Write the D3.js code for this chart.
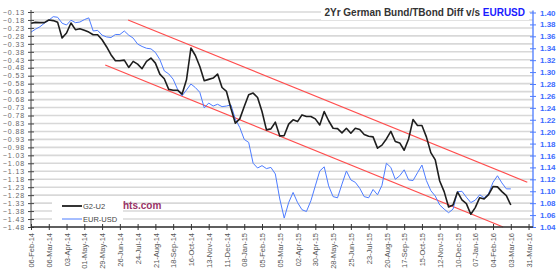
<!DOCTYPE html>
<html>
<head>
<meta charset="utf-8">
<script src="https://cdn.jsdelivr.net/npm/d3@7"></script>
<style>
  body { margin: 0; background: #fff; }
  svg { display: block; }
</style>
</head>
<body>
<div id="chart"></div>
<script>
// weekly readings from 06-Feb-14
let seriesStart = "2014-02-06";

let g2u2 = [-0.201, -0.195, -0.197, -0.197, -0.180, -0.184, -0.195, -0.293, -0.262, -0.199,
  -0.241, -0.235, -0.245, -0.256, -0.273, -0.273, -0.304, -0.348, -0.398, -0.436,
  -0.436, -0.432, -0.478, -0.440, -0.457, -0.486, -0.440, -0.419, -0.451, -0.520,
  -0.549, -0.616, -0.621, -0.621, -0.646, -0.556, -0.356, -0.403, -0.472, -0.562,
  -0.553, -0.545, -0.520, -0.604, -0.629, -0.734, -0.828, -0.801, -0.723, -0.650,
  -0.639, -0.667, -0.755, -0.870, -0.864, -0.822, -0.908, -0.906, -0.834, -0.807,
  -0.818, -0.776, -0.786, -0.786, -0.801, -0.839, -0.755, -0.813, -0.860, -0.862,
  -0.889, -0.860, -0.891, -0.860, -0.868, -0.899, -0.910, -0.914, -0.985, -0.966,
  -0.927, -0.880, -0.943, -0.952, -0.998, -0.927, -0.805, -0.843, -0.843, -0.914,
  -1.013, -1.059, -1.191, -1.258, -1.354, -1.342, -1.260, -1.310, -1.333, -1.400,
  -1.358, -1.296, -1.304, -1.277, -1.226, -1.228, -1.258, -1.283, -1.342];

let eurusd = [1.367, 1.372, 1.376, 1.382, 1.387, 1.393, 1.392, 1.382, 1.379, 1.387,
  1.383, 1.384, 1.388, 1.391, 1.369, 1.370, 1.362, 1.359, 1.358, 1.363,
  1.363, 1.369, 1.362, 1.357, 1.347, 1.343, 1.340, 1.339, 1.333, 1.321,
  1.302, 1.297, 1.288, 1.271, 1.260, 1.270, 1.280, 1.274, 1.266, 1.240,
  1.248, 1.243, 1.246, 1.242, 1.243, 1.245, 1.221, 1.207, 1.187, 1.182,
  1.147, 1.139, 1.143, 1.138, 1.140, 1.129, 1.087, 1.055, 1.081, 1.098,
  1.081, 1.069, 1.066, 1.084, 1.109, 1.134, 1.141, 1.109, 1.091, 1.089,
  1.112, 1.134, 1.119, 1.115, 1.105, 1.091, 1.089, 1.103, 1.094, 1.110,
  1.147, 1.140, 1.120, 1.126, 1.136, 1.119, 1.118, 1.131, 1.144, 1.118,
  1.101, 1.092, 1.077, 1.070, 1.064, 1.070, 1.099, 1.100, 1.090, 1.081,
  1.085, 1.094, 1.089, 1.096, 1.115, 1.126, 1.114, 1.104, 1.104];

// channel lines, on the left axis
let upperChannel = [["2014-07-09", -0.180], ["2016-03-29", -1.199]];
let lowerChannel = [["2014-06-03", -0.463], ["2016-02-20", -1.480]];

let dateLabels = ["06-Feb-14", "06-Mar-14", "03-Apr-14", "01-May-14", "29-May-14", "26-Jun-14",
  "24-Jul-14", "21-Aug-14", "18-Sep-14", "16-Oct-14", "13-Nov-14", "11-Dec-14", "08-Jan-15",
  "05-Feb-15", "05-Mar-15", "02-Apr-15", "30-Apr-15", "28-May-15", "25-Jun-15", "23-Jul-15",
  "20-Aug-15", "17-Sep-15", "15-Oct-15", "12-Nov-15", "10-Dec-15", "07-Jan-16", "04-Feb-16",
  "03-Mar-16", "31-Mar-16"];

let leftTicks = d3.range(28).map(i => +(-0.13 - 0.05 * i).toFixed(2));
let rightTicks = d3.range(19).map(i => +(1.04 + 0.02 * i).toFixed(2));

let width = 560, height = 279;
let margin = ({ top: 12, right: 27, bottom: 52, left: 31 });

let parseIso = d3.timeParse("%Y-%m-%d");
let parseLabel = d3.timeParse("%d-%b-%y");
let fmtLabel = d3.timeFormat("%d-%b-%y");
let start = parseIso(seriesStart);
let dates = g2u2.map((d, i) => d3.timeDay.offset(start, 7 * i));
let tickDates = dateLabels.map(parseLabel);

let x = d3.scaleTime()
  .domain([start, parseIso("2016-04-07")])
  .range([margin.left, width - margin.right]);

let yL = d3.scaleLinear()
  .domain([-1.48, -0.13])
  .range([height - margin.bottom, margin.top]);

let yR = d3.scaleLinear()
  .domain([1.04, 1.40])
  .range([height - margin.bottom, margin.top + 0.5]);

let svg = d3.select("#chart")
  .append("svg")
  .attr("width", width)
  .attr("height", height)
  .attr("font-family", "'Liberation Sans', Arial, sans-serif");

// grid
svg.append("g")
  .selectAll("line")
  .data(leftTicks)
  .join("line")
  .attr("x1", margin.left)
  .attr("x2", width - margin.right)
  .attr("y1", d => yL(d))
  .attr("y2", d => yL(d))
  .attr("stroke", "#d8d8d8")
  .attr("stroke-width", 1.6);

// white boxes behind legend and title
svg.append("rect").attr("x", 52).attr("y", 198).attr("width", 71).attr("height", 27).attr("fill", "#fff");
svg.append("rect").attr("x", 321).attr("y", 5).attr("width", 208).attr("height", 15).attr("fill", "#fff");

let line = d3.line().x(d => x(d[0]));

svg.append("g")
  .attr("fill", "none")
  .attr("stroke", "#ff4d4d")
  .attr("stroke-width", 1.2)
  .selectAll("path")
  .data([upperChannel, lowerChannel])
  .join("path")
  .attr("d", d => line.y(p => yL(p[1]))(d.map(p => [parseIso(p[0]), p[1]])));

svg.append("path")
  .attr("fill", "none")
  .attr("stroke", "#4d7cff")
  .attr("stroke-width", 1)
  .attr("d", line.y(d => yR(d[1]))(d3.zip(dates, eurusd)));

svg.append("path")
  .attr("fill", "none")
  .attr("stroke", "#1e1e1e")
  .attr("stroke-width", 1.6)
  .attr("stroke-linejoin", "round")
  .attr("d", line.y(d => yL(d[1]))(d3.zip(dates, g2u2)));

// axes
svg.append("g")
  .attr("transform", `translate(${margin.left},0)`)
  .call(d3.axisLeft(yL).tickValues(leftTicks).tickFormat(d3.format(".2f")).tickSize(3).tickPadding(3))
  .call(g => g.select(".domain").attr("stroke", "#444").attr("d", `M0,${yL(-0.13) - 2}V${yL(-1.48)}`))
  .call(g => g.selectAll(".tick line").attr("x2", 3).attr("x1", -3).attr("stroke", "#444"))
  .call(g => g.selectAll("text").attr("fill", "#666").attr("font-size", 7).attr("letter-spacing", 0.9));

svg.append("g")
  .attr("transform", `translate(${width - margin.right},0)`)
  .call(d3.axisRight(yR).tickValues(rightTicks).tickFormat(d3.format(".2f")).tickSize(3).tickPadding(4))
  .call(g => g.select(".domain").attr("stroke", "#4d7cff").attr("stroke-width", 1.3).attr("d", `M0,${yR(1.40) - 2}V${yR(1.04)}`))
  .call(g => g.selectAll(".tick line").attr("x1", -3).attr("stroke", "#4d7cff"))
  .call(g => g.selectAll("text").attr("fill", "#3d6bff").attr("font-weight", "bold").attr("font-size", 8));

svg.append("g")
  .attr("transform", `translate(0,${height - margin.bottom})`)
  .call(d3.axisBottom(x).tickValues(tickDates).tickFormat(fmtLabel).tickSize(3))
  .call(g => g.select(".domain").attr("stroke", "#333").attr("stroke-width", 1.5).attr("d", `M${margin.left},0H${width - margin.right}`))
  .call(g => g.selectAll(".tick line").attr("y1", -3).attr("stroke", "#333"))
  .call(g => g.selectAll("text")
    .attr("fill", "#555")
    .attr("font-size", 7.5)
    .attr("text-anchor", "end")
    .attr("transform", "rotate(-90)")
    .attr("x", -6)
    .attr("y", 0)
    .attr("dy", "0.35em"));

// title
let title = svg.append("text")
  .attr("x", 525)
  .attr("y", 16)
  .attr("text-anchor", "end")
  .attr("font-size", 10)
  .attr("font-weight", "bold");
title.append("tspan").attr("fill", "#333").text("2Yr German Bund/TBond Diff v/s ");
title.append("tspan").attr("fill", "#1a1aff").text("EURUSD");

// legend
let legend = [["G2-U2", "#1e1e1e", 1.8, 206], ["EUR-USD", "#4d7cff", 1, 219]];
let lg = svg.append("g").selectAll("g").data(legend).join("g");
lg.append("line")
  .attr("x1", 62).attr("x2", 82)
  .attr("y1", d => d[3]).attr("y2", d => d[3])
  .attr("stroke", d => d[1]).attr("stroke-width", d => d[2]);
lg.append("text")
  .attr("x", 83).attr("y", d => d[3]).attr("dy", "0.35em")
  .attr("font-size", 7.5).attr("fill", "#444")
  .text(d => d[0]);

svg.append("text")
  .attr("x", 123).attr("y", 209)
  .attr("font-size", 10).attr("font-weight", "bold")
  .attr("fill", "#993366")
  .text("hts.com");
</script>
</body>
</html>
